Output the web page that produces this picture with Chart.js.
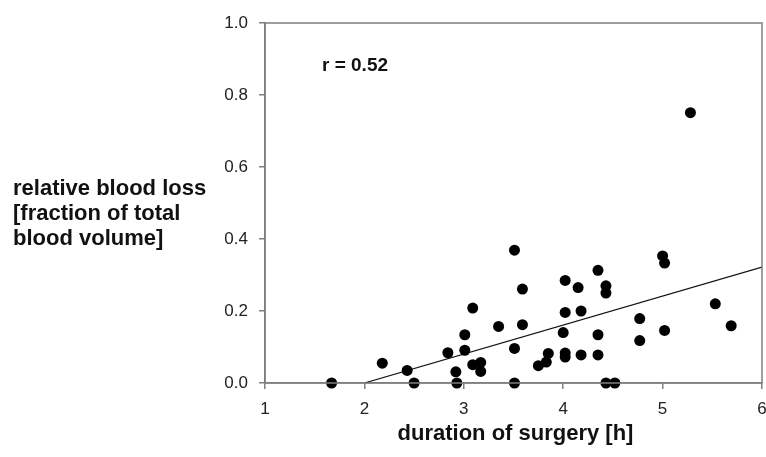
<!DOCTYPE html>
<html>
<head>
<meta charset="utf-8">
<script src="https://cdn.jsdelivr.net/npm/chart.js@4/dist/chart.umd.min.js"></script>
<style>
  html, body { margin: 0; padding: 0; background: #fff; }
  #wrap { width: 766px; height: 457px; }
</style>
</head>
<body>
<div id="wrap"><canvas id="bloodChart"></canvas></div>
<script>
// duration of surgery [h]
const durations = [1.67, 2.18, 2.43, 2.50, 2.84, 2.92, 2.93, 3.01, 3.01, 3.09, 3.09, 3.17, 3.17, 3.35, 3.51,
  3.51, 3.51, 3.59, 3.59, 3.75, 3.83, 3.85, 4.00, 4.02, 4.02, 4.02, 4.02, 4.15, 4.18, 4.18,
  4.35, 4.35, 4.35, 4.43, 4.43, 4.43, 4.52, 4.77, 4.77, 5.00, 5.02, 5.02, 5.28, 5.53, 5.69];
// relative blood loss
const bloodLoss = [0.000, 0.055, 0.035, 0.000, 0.084, 0.031, 0.000, 0.134, 0.091, 0.208, 0.051, 0.057, 0.032, 0.157, 0.369,
  0.096, 0.000, 0.261, 0.162, 0.048, 0.058, 0.082, 0.140, 0.285, 0.196, 0.083, 0.072, 0.265, 0.200, 0.078,
  0.313, 0.134, 0.078, 0.270, 0.250, 0.000, 0.000, 0.179, 0.118, 0.353, 0.333, 0.146, 0.751, 0.220, 0.159];
// regression line end points
const fitX = [2, 6];
const fitY = [0, 0.322];
const xTicks = [1, 2, 3, 4, 5, 6];
const yTicks = [0, 0.2, 0.4, 0.6, 0.8, 1.0];
const rLabel = 'r = 0.52';
const yTitle = ['relative blood loss', '[fraction of total', 'blood volume]'];
const xTitle = 'duration of surgery [h]';

const axisGrey = '#7f7f7f';
const font = 'Liberation Sans, Arial, sans-serif';

const textPlugin = {
  id: 'texts',
  afterDraw(chart) {
    const c = chart.ctx;
    const a = chart.chartArea;
    c.save();
    // frame
    c.strokeStyle = axisGrey;
    c.lineWidth = 1.5;
    c.strokeRect(a.left, a.top, a.right - a.left, a.bottom - a.top);
    c.fillStyle = '#111';
    c.textBaseline = 'alphabetic';
    c.font = 'bold 19px ' + font;
    c.textAlign = 'left';
    c.fillText(rLabel, 322, 71);
    c.font = 'bold 22px ' + font;
    yTitle.forEach((t, i) => c.fillText(t, 13, 195 + i * 25));
    c.textAlign = 'center';
    c.fillText(xTitle, (a.left + a.right) / 2 + 2, 440);
    c.restore();
  }
};

new Chart(document.getElementById('bloodChart'), {
  type: 'scatter',
  data: {
    datasets: [{
      label: 'patients',
      data: durations.map((d, i) => ({ x: d, y: bloodLoss[i] })),
      backgroundColor: '#000',
      borderWidth: 0,
      pointRadius: 5.5,
      clip: false
    }, {
      type: 'line',
      label: 'fit',
      data: fitX.map((d, i) => ({ x: d, y: fitY[i] })),
      borderColor: '#111',
      borderWidth: 1.2,
      pointRadius: 0,
      fill: false
    }]
  },
  options: {
    responsive: true,
    maintainAspectRatio: false,
    animation: false,
    layout: { autoPadding: false, padding: { left: 0, top: 23, right: 4, bottom: 0 } },
    plugins: {
      legend: { display: false },
      tooltip: { enabled: false }
    },
    scales: {
      x: {
        type: 'linear',
        min: 1,
        max: 6,
        afterFit: s => { s.height = 74; s.paddingLeft = 0; s.paddingRight = 0; },
        afterBuildTicks: s => { s.ticks = xTicks.map(v => ({ value: v })); },
        ticks: {
          color: '#222',
          font: { family: font, size: 17 },
          padding: 10,
          maxRotation: 0,
          callback: v => String(v)
        },
        grid: { drawOnChartArea: false, drawTicks: true, tickLength: 6, color: axisGrey, lineWidth: 1.5 },
        border: { display: true, color: axisGrey, width: 1.5 }
      },
      y: {
        type: 'linear',
        min: 0,
        max: 1,
        afterFit: s => { s.width = 265; s.paddingTop = 0; s.paddingBottom = 0; },
        afterBuildTicks: s => { s.ticks = yTicks.map(v => ({ value: v })); },
        ticks: {
          color: '#222',
          font: { family: font, size: 17 },
          padding: 11,
          callback: v => v.toFixed(1)
        },
        grid: { drawOnChartArea: false, drawTicks: true, tickLength: 6, color: axisGrey, lineWidth: 1.5 },
        border: { display: true, color: axisGrey, width: 1.5 }
      }
    }
  },
  plugins: [textPlugin]
});
</script>
</body>
</html>
